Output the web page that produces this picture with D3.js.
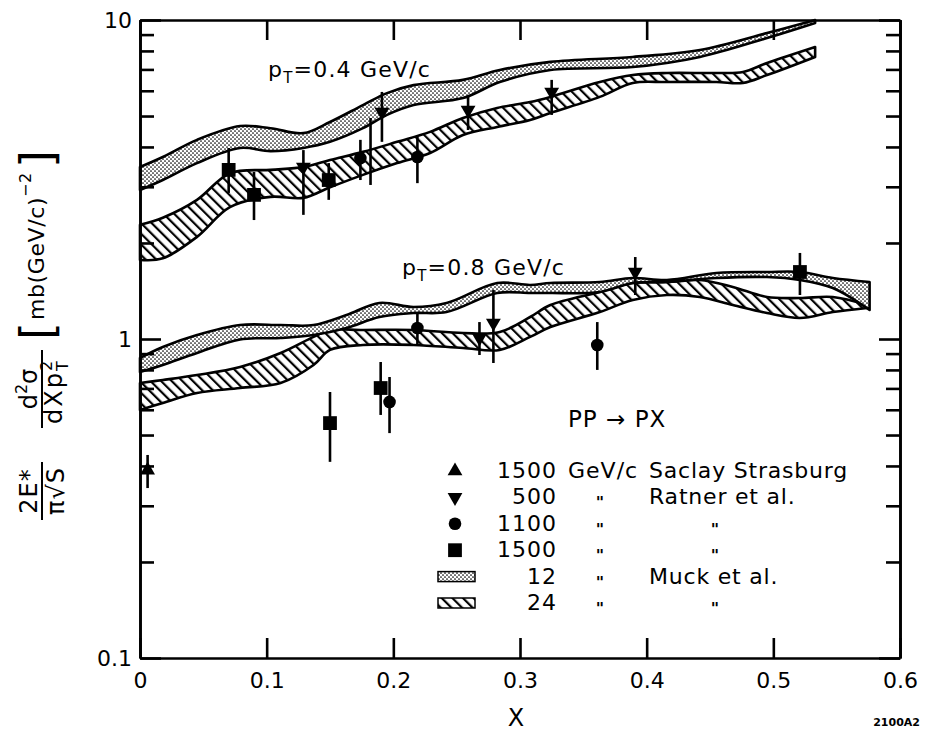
<!DOCTYPE html>
<html><head><meta charset="utf-8">
<script src="https://cdn.jsdelivr.net/npm/d3@7/dist/d3.min.js"></script>
<style>
body{margin:0;background:#fff;}
svg text{font-family:"DejaVu Sans",sans-serif;fill:#000;}
</style></head><body>
<svg id="chart" width="926" height="734"></svg>
<script>
// ---------------- data ----------------
const xTickValues = [0, 0.1, 0.2, 0.3, 0.4, 0.5, 0.6];
const xTickLabels = ["0", "0.1", "0.2", "0.3", "0.4", "0.5", "0.6"];
const yMajorValues = [0.1, 1, 10];
const yMajorLabels = ["0.1", "1", "10"];
const yMinorValues = [0.2,0.3,0.4,0.5,0.6,0.7,0.8,0.9,2,3,4,5,6,7,8,9];

// pT = 0.4 GeV/c, 12 GeV/c (stippled band)
const b04s_x  = [0.0,0.018,0.045,0.079,0.103,0.129,0.150,0.176,0.195,0.216,0.255,0.284,0.324,0.389,0.442,0.495,0.533];
const b04s_hi = [3.46,3.72,4.21,4.65,4.58,4.42,4.79,5.41,5.90,6.25,6.49,6.97,7.39,7.66,8.05,9.10,10.0];
const b04s_lo = [2.93,3.15,3.56,3.97,3.88,3.97,4.15,4.58,5.04,5.41,5.69,6.39,6.97,7.12,7.66,8.78,9.79];
// pT = 0.4 GeV/c, 24 GeV/c (hatched band)
const b04h_x  = [0.0,0.018,0.045,0.071,0.103,0.129,0.150,0.176,0.203,0.229,0.255,0.282,0.308,0.324,0.363,0.389,0.416,0.455,0.476,0.495,0.533];
const b04h_hi = [2.28,2.40,2.73,3.31,3.39,3.46,3.64,3.86,4.15,4.46,4.93,5.30,5.53,5.74,6.39,6.72,6.82,6.82,6.87,7.33,8.23];
const b04h_lo = [1.77,1.79,2.09,2.59,2.79,2.77,2.99,3.27,3.56,3.83,4.36,4.62,4.86,5.11,5.74,6.35,6.39,6.39,6.35,6.72,7.66];
// pT = 0.8 GeV/c, 12 GeV/c (stippled band)
const b08s_x  = [0.0,0.018,0.045,0.079,0.111,0.137,0.163,0.189,0.216,0.242,0.282,0.308,0.324,0.363,0.389,0.416,0.455,0.495,0.521,0.547,0.576];
const b08s_hi = [0.872,0.944,1.029,1.106,1.106,1.106,1.189,1.297,1.260,1.297,1.498,1.477,1.498,1.509,1.553,1.531,1.610,1.622,1.622,1.553,1.509];
const b08s_lo = [0.788,0.829,0.904,0.997,1.007,1.029,1.083,1.172,1.206,1.215,1.394,1.394,1.394,1.404,1.498,1.509,1.553,1.564,1.531,1.445,1.233];
// pT = 0.8 GeV/c, 24 GeV/c (hatched band)
const b08h_x  = [0.0,0.018,0.045,0.079,0.111,0.137,0.150,0.176,0.216,0.255,0.284,0.308,0.324,0.363,0.389,0.416,0.442,0.468,0.495,0.521,0.547,0.574];
const b08h_hi = [0.728,0.744,0.771,0.817,0.904,1.015,1.067,1.067,1.067,1.044,1.052,1.172,1.278,1.404,1.498,1.509,1.531,1.456,1.354,1.344,1.354,1.278];
const b08h_lo = [0.599,0.630,0.677,0.702,0.728,0.829,0.924,0.958,0.958,0.937,0.924,1.015,1.090,1.215,1.325,1.374,1.354,1.278,1.206,1.164,1.215,1.251];

// 1500 GeV/c Saclay Strasburg (triangle up)
const triUp_x  = [0.006];
const triUp_y  = [0.388];
const triUp_lo = [0.341];
const triUp_hi = [0.433];
// 500 GeV/c Ratner et al. (triangle down)
const triDn_x  = [0.129,0.191,0.259,0.325,0.268,0.279,0.391];
const triDn_y  = [3.46,5.15,5.22,5.95,1.007,1.122,1.622];
const triDn_lo = [2.45,4.15,4.52,5.04,0.891,0.841,1.374];
const triDn_hi = [3.91,5.95,5.74,6.49,1.13,1.424,1.807];
// 1100 GeV/c Ratner et al. (circle)
const circ_x  = [0.174,0.219,0.219,0.197,0.361];
const circ_y  = [3.69,3.72,1.083,0.635,0.958];
const circ_lo = [3.15,3.08,0.958,0.507,0.800];
const circ_hi = [4.21,4.30,1.206,0.760,1.13];
// 1500 GeV/c Ratner et al. (square)
const sq_x  = [0.070,0.090,0.149,0.150,0.190,0.521];
const sq_y  = [3.39,2.83,3.15,0.545,0.702,1.622];
const sq_lo = [2.87,2.36,2.73,0.412,0.578,1.374];
const sq_hi = [3.97,3.34,3.56,0.682,0.847,1.861];
// error bar drawn without a visible marker
const bare_x  = [0.182];
const bare_lo = [3.04];
const bare_hi = [4.93];

// legend
const legendSymbols = ["triUp","triDn","circle","square","stipple","hatch"];
const legendMomenta = ["1500","500","1100","1500","12","24"];
const legendUnits   = ["GeV/c","\"","\"","\"","\"","\""];
const legendGroups  = ["Saclay Strasburg","Ratner et al.","\"","\"","Muck et al.","\""];

// ---------------- drawing ----------------
const svg = d3.select("#chart");
const x = d3.scaleLinear().domain([0, 0.6]).range([140, 900]);
const y = d3.scaleLog().domain([0.1, 10]).range([658, 20]);
const LW = 2.6;

const defs = svg.append("defs");
const stip = defs.append("pattern").attr("id","stip").attr("patternUnits","userSpaceOnUse")
  .attr("width",4).attr("height",4);
stip.append("rect").attr("width",4).attr("height",4).attr("fill","#fff");
stip.append("circle").attr("cx",1).attr("cy",1).attr("r",0.85).attr("fill","#000");
stip.append("circle").attr("cx",3).attr("cy",3).attr("r",0.85).attr("fill","#000");
const hatch = defs.append("pattern").attr("id","hatch").attr("patternUnits","userSpaceOnUse")
  .attr("width",7.5).attr("height",7.5).attr("patternTransform","rotate(-45)");
hatch.append("rect").attr("width",7.5).attr("height",7.5).attr("fill","#fff");
hatch.append("line").attr("x1",2).attr("x2",2).attr("y1",0).attr("y2",7.5)
  .attr("stroke","#000").attr("stroke-width",2.2);

// bands
function band(xs, lo, hi, fill){
  const data = xs.map((v,i)=>({x:v, lo:lo[i], hi:hi[i]}));
  const area = d3.area().x(d=>x(d.x)).y0(d=>y(d.lo)).y1(d=>y(d.hi))
    .curve(d3.curveCatmullRom.alpha(0.5));
  svg.append("path").datum(data).attr("d", area)
    .attr("fill", fill).attr("stroke","#000").attr("stroke-width",LW)
    .attr("stroke-linejoin","round");
}
band(b04h_x, b04h_lo, b04h_hi, "url(#hatch)");
band(b04s_x, b04s_lo, b04s_hi, "url(#stip)");
band(b08h_x, b08h_lo, b08h_hi, "url(#hatch)");
band(b08s_x, b08s_lo, b08s_hi, "url(#stip)");

// axes
function styleAxis(g){
  g.selectAll("path.domain").attr("stroke","#000").attr("stroke-width",LW);
  g.selectAll(".tick line").attr("stroke","#000").attr("stroke-width",LW);
  g.selectAll(".tick text").attr("font-size",22).attr("font-family","DejaVu Sans").attr("fill","#000");
}
svg.append("g").attr("transform","translate(0,658)")
  .call(d3.axisBottom(x).tickValues(xTickValues).tickFormat((d,i)=>xTickLabels[i])
    .tickSizeInner(-20).tickSizeOuter(0).tickPadding(14)).call(styleAxis);
svg.append("g").attr("transform","translate(0,20)")
  .call(d3.axisTop(x).tickValues(xTickValues).tickFormat("")
    .tickSizeInner(-20).tickSizeOuter(0)).call(styleAxis);
svg.append("g").attr("transform","translate(140,0)")
  .call(d3.axisLeft(y).tickValues(yMajorValues).tickFormat((d,i)=>yMajorLabels[i])
    .tickSizeInner(-21).tickSizeOuter(0).tickPadding(8)).call(styleAxis);
svg.append("g").attr("transform","translate(140,0)")
  .call(d3.axisLeft(y).tickValues(yMinorValues).tickFormat("")
    .tickSizeInner(-14).tickSizeOuter(0)).call(styleAxis);
svg.append("g").attr("transform","translate(900,0)")
  .call(d3.axisRight(y).tickValues(yMajorValues).tickFormat("")
    .tickSizeInner(-21).tickSizeOuter(0)).call(styleAxis);
svg.append("g").attr("transform","translate(900,0)")
  .call(d3.axisRight(y).tickValues(yMinorValues).tickFormat("")
    .tickSizeInner(-14).tickSizeOuter(0)).call(styleAxis);

// symbols
const symTriUp = d3.symbol().type(d3.symbolTriangle).size(95);
const symCircle = d3.symbol().type(d3.symbolCircle).size(125);
const symSquare = d3.symbol().type(d3.symbolSquare).size(190);
function errBars(xs, lo, hi){
  xs.forEach((v,i)=>{
    svg.append("line").attr("x1",x(v)).attr("x2",x(v)).attr("y1",y(lo[i])).attr("y2",y(hi[i]))
      .attr("stroke","#000").attr("stroke-width",LW);
  });
}
function markers(xs, ys, gen, rot){
  xs.forEach((v,i)=>{
    svg.append("path").attr("d", gen())
      .attr("transform",`translate(${x(v)},${y(ys[i])}) rotate(${rot})`).attr("fill","#000");
  });
}
errBars(triUp_x, triUp_lo, triUp_hi); markers(triUp_x, triUp_y, symTriUp, 0);
errBars(triDn_x, triDn_lo, triDn_hi); markers(triDn_x, triDn_y, symTriUp, 180);
errBars(circ_x, circ_lo, circ_hi); markers(circ_x, circ_y, symCircle, 0);
errBars(sq_x, sq_lo, sq_hi); markers(sq_x, sq_y, symSquare, 0);
errBars(bare_x, bare_lo, bare_hi);

// annotations
function ptLabel(px, py, txt){
  const t = svg.append("text").attr("x",px).attr("y",py).attr("font-size",22).attr("letter-spacing",1.2);
  t.append("tspan").text("p");
  t.append("tspan").attr("font-size",15).attr("dy",6).text("T");
  t.append("tspan").attr("dy",-6).text("=" + txt);
}
ptLabel(268, 77, "0.4 GeV/c");
ptLabel(402, 275, "0.8 GeV/c");
svg.append("text").attr("x",568).attr("y",427).attr("font-size",23).attr("letter-spacing",1)
  .text("PP \u2192 PX");

// legend
const legY0 = 478, legDY = 26.4;
legendSymbols.forEach((s,i)=>{
  const by = legY0 + i*legDY;
  const cy = by - 7;
  if (s==="triUp" || s==="triDn"){
    svg.append("path").attr("d",symTriUp()).attr("fill","#000")
      .attr("transform",`translate(455,${cy}) rotate(${s==="triDn"?180:0})`);
  } else if (s==="circle"){
    svg.append("path").attr("d",symCircle()).attr("fill","#000").attr("transform",`translate(455,${cy})`);
  } else if (s==="square"){
    svg.append("path").attr("d",symSquare()).attr("fill","#000").attr("transform",`translate(455,${cy})`);
  } else {
    svg.append("rect").attr("x",438).attr("y",cy-5).attr("width",37).attr("height",10)
      .attr("fill", s==="stipple"?"url(#stip)":"url(#hatch)").attr("stroke","#000").attr("stroke-width",1.5);
  }
  svg.append("text").attr("x",557).attr("y",by).attr("text-anchor","end").attr("font-size",22)
    .attr("letter-spacing",1).text(legendMomenta[i]);
  if (legendUnits[i]==="\""){
    svg.append("text").attr("x",600).attr("y",by+4).attr("text-anchor","middle").attr("font-size",16)
      .attr("font-weight","bold").text("\"");
  } else {
    svg.append("text").attr("x",568).attr("y",by).attr("font-size",22).attr("letter-spacing",1).text(legendUnits[i]);
  }
  if (legendGroups[i]==="\""){
    svg.append("text").attr("x",715).attr("y",by+4).attr("text-anchor","middle").attr("font-size",16)
      .attr("font-weight","bold").text("\"");
  } else {
    svg.append("text").attr("x",649).attr("y",by).attr("font-size",22).attr("letter-spacing",0.8).text(legendGroups[i]);
  }
});

// axis titles
svg.append("text").attr("x",516).attr("y",726).attr("text-anchor","middle").attr("font-size",24).text("X");
svg.append("text").attr("x",920).attr("y",726).attr("text-anchor","end").attr("font-size",11)
  .attr("font-weight","bold").text("2100A2");

// rotated y label
const yl = svg.append("g").attr("transform","translate(0,520) rotate(-90)");
const fs = 24;
// fraction 1
yl.append("text").attr("x",29).attr("y",37).attr("text-anchor","middle").attr("font-size",fs)
  .attr("letter-spacing",1).text("2E*");
yl.append("line").attr("x1",0).attr("x2",58).attr("y1",42).attr("y2",42).attr("stroke","#000").attr("stroke-width",2);
yl.append("text").attr("x",29).attr("y",64).attr("text-anchor","middle").attr("font-size",fs)
  .attr("letter-spacing",1).text("\u03C0\u221AS");
// fraction 2
const n2 = yl.append("text").attr("x",131).attr("y",37).attr("text-anchor","middle").attr("font-size",fs);
n2.append("tspan").text("d");
n2.append("tspan").attr("font-size",16).attr("dy",-10).text("2");
n2.append("tspan").attr("dy",10).text("\u03C3");
yl.append("line").attr("x1",92).attr("x2",170).attr("y1",42).attr("y2",42).attr("stroke","#000").attr("stroke-width",2);
const d2 = yl.append("text").attr("x",96).attr("y",62).attr("font-size",fs);
d2.append("tspan").attr("letter-spacing",2).text("dXp");
d2.append("tspan").attr("font-size",16).attr("dy",-10).text("2");
d2.append("tspan").attr("font-size",16).attr("dx",-10).attr("dy",16).text("T");
// bracketed units
yl.append("text").attr("x",180).attr("y",53).attr("font-size",46).text("[");
const u = yl.append("text").attr("x",200).attr("y",44).attr("font-size",22).attr("letter-spacing",0.6);
u.append("tspan").text("mb(GeV/c)");
u.append("tspan").attr("font-size",16).attr("dy",-13).text("\u22122");
yl.append("text").attr("x",352).attr("y",53).attr("font-size",46).text("]");
</script>
</body></html>
